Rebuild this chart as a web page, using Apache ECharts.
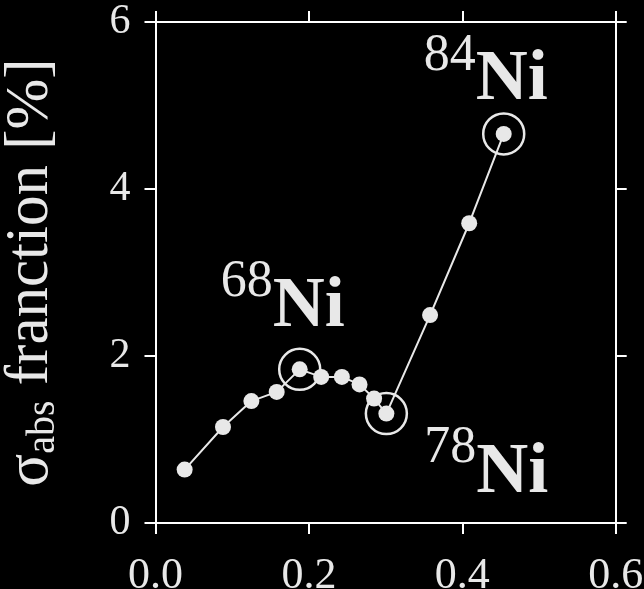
<!DOCTYPE html>
<html>
<head>
<meta charset="utf-8">
<script src="https://cdn.jsdelivr.net/npm/echarts@6/dist/echarts.min.js"></script>
<style>
html,body{margin:0;padding:0;background:#000;}
#c{width:644px;height:589px;}
</style>
</head>
<body>
<div id="c"></div>
<script>
const xVals = [0.038, 0.088, 0.125, 0.158, 0.188, 0.216, 0.243, 0.266, 0.285, 0.301, 0.358, 0.409, 0.454];
const yVals = [0.64, 1.15, 1.46, 1.57, 1.84, 1.75, 1.75, 1.66, 1.49, 1.31, 2.49, 3.59, 4.66];
const highlightIdx = [4, 9, 12];
const highlightMass = ['68', '78', '84'];
const highlightElem = ['Ni', 'Ni', 'Ni'];
const xRange = [0, 0.6, 0.2];
const yRange = [0, 6, 2];
const yName = ['σ', 'abs', ' franction [%]'];

const FONT = 'Liberation Serif';
const FG = '#e8e8e8';
const labelOffsets = [[-17, -62], [100, 60], [-18, -53]];

const mainData = xVals.map((x, i) => [x, yVals[i]]);
const hiData = highlightIdx.map((k, j) => ({
  value: [xVals[k], yVals[k]],
  label: {
    formatter: '{m|' + highlightMass[j] + '}{e|' + highlightElem[j] + '}',
    offset: labelOffsets[j]
  }
}));

const axisCommon = {
  axisLine: { show: true, onZero: false, lineStyle: { color: '#fff', width: 2 } },
  axisTick: { show: true, inside: false, length: 11, lineStyle: { color: '#fff', width: 2 } },
  splitLine: { show: false }
};

const chart = echarts.init(document.getElementById('c'), null, { renderer: 'canvas' });
chart.setOption({
  backgroundColor: '#000',
  animation: false,
  grid: { left: 155.5, right: 28.3, top: 22, bottom: 66, containLabel: false, outerBoundsMode: 'none' },
  xAxis: [
    Object.assign({
      type: 'value', position: 'bottom', min: xRange[0], max: xRange[1], interval: xRange[2],
      axisLabel: { color: FG, fontFamily: FONT, fontSize: 44, margin: 31,
        formatter: v => v.toFixed(1) }
    }, axisCommon),
    Object.assign({
      type: 'value', position: 'top', min: xRange[0], max: xRange[1], interval: xRange[2],
      axisLabel: { show: false }
    }, axisCommon)
  ],
  yAxis: [
    Object.assign({
      type: 'value', position: 'left', min: yRange[0], max: yRange[1], interval: yRange[2],
      axisLabel: { color: FG, fontFamily: FONT, fontSize: 42, margin: 25 },
      name: '{s|' + yName[0] + '}{sub|' + yName[1] + '}{n|' + yName[2] + '}',
      nameLocation: 'middle', nameRotate: 90, nameGap: 92,
      nameTextStyle: {
        color: FG, fontFamily: FONT, fontSize: 61,
        rich: {
          s: { color: FG, fontFamily: FONT, fontSize: 61, lineHeight: 66 },
          sub: { color: FG, fontFamily: FONT, fontSize: 40, lineHeight: 8, verticalAlign: 'bottom' },
          n: { color: FG, fontFamily: FONT, fontSize: 61, lineHeight: 66 }
        }
      }
    }, axisCommon),
    Object.assign({
      type: 'value', position: 'right', min: yRange[0], max: yRange[1], interval: yRange[2],
      axisLabel: { show: false }
    }, axisCommon)
  ],
  series: [
    {
      type: 'line', xAxisIndex: 0, yAxisIndex: 0, data: mainData,
      symbol: 'circle', symbolSize: 16,
      lineStyle: { color: FG, width: 2 },
      itemStyle: { color: FG, opacity: 1 },
      z: 3
    },
    {
      type: 'scatter', xAxisIndex: 0, yAxisIndex: 0, data: hiData,
      symbol: 'circle', symbolSize: 41,
      itemStyle: { color: 'rgba(0,0,0,0)', borderColor: FG, borderWidth: 2.5, opacity: 1 },
      emphasis: { disabled: true },
      label: {
        show: true, position: 'inside', align: 'center', verticalAlign: 'middle',
        color: FG, opacity: 1,
        rich: {
          m: { color: FG, fontFamily: FONT, fontSize: 52, height: 30, lineHeight: 30, verticalAlign: 'top' },
          e: { color: FG, fontFamily: FONT, fontSize: 72, fontWeight: 'bold', lineHeight: 80 }
        }
      },
      z: 4
    }
  ]
});
</script>
</body>
</html>
